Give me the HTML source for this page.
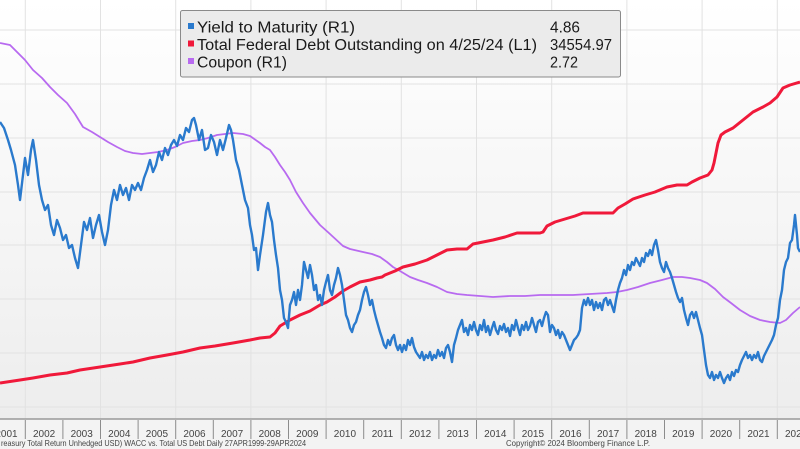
<!DOCTYPE html>
<html><head><meta charset="utf-8"><style>
html,body{margin:0;padding:0;background:#f3f3f3;}
svg{display:block;font-family:"Liberation Sans","DejaVu Sans",sans-serif;}
</style></head><body>
<svg width="800" height="449" viewBox="0 0 800 449" xmlns="http://www.w3.org/2000/svg">
<defs>
<linearGradient id="bg" x1="0" y1="0" x2="0" y2="1">
<stop offset="0" stop-color="#ffffff"/><stop offset="1" stop-color="#ededed"/>
</linearGradient>
</defs>
<rect x="0" y="0" width="800" height="419" fill="url(#bg)"/>
<rect x="0" y="419" width="800" height="30" fill="#f3f3f3"/>
<g stroke="#e2e2e2" stroke-width="1">
<line x1="0" y1="30" x2="800" y2="30"/><line x1="0" y1="84" x2="800" y2="84"/>
<line x1="0" y1="138" x2="800" y2="138"/><line x1="0" y1="192" x2="800" y2="192"/>
<line x1="0" y1="245" x2="800" y2="245"/><line x1="0" y1="299" x2="800" y2="299"/>
<line x1="0" y1="353" x2="800" y2="353"/><line x1="0" y1="407" x2="800" y2="407"/>
<line x1="25.3" y1="0" x2="25.3" y2="419"/><line x1="100.5" y1="0" x2="100.5" y2="419"/>
<line x1="175.7" y1="0" x2="175.7" y2="419"/><line x1="250.9" y1="0" x2="250.9" y2="419"/>
<line x1="326.1" y1="0" x2="326.1" y2="419"/><line x1="401.3" y1="0" x2="401.3" y2="419"/>
<line x1="476.5" y1="0" x2="476.5" y2="419"/><line x1="551.7" y1="0" x2="551.7" y2="419"/>
<line x1="626.9" y1="0" x2="626.9" y2="419"/><line x1="702.1" y1="0" x2="702.1" y2="419"/>
<line x1="777.3" y1="0" x2="777.3" y2="419"/>
</g>
<!-- Coupon -->
<polyline fill="none" stroke="#b86af0" stroke-width="1.8" stroke-linejoin="round" points="0,43 10,45 17,52 25,60 33,70 42,78 50,87 58,95 67,103 75,114 83,127 92,132 100,137 108,142 117,147 125,151 133,153 142,154 150,153 158,152 167,150 175,147 183,143 192,141 200,140 208,138 217,135 225,134 233,133 243,134 250,136 260,143 265,147 270,150 275,157 280,165 285,172 290,180 296,192 303,203 310,213 320,225 330,234 343,246 350,249 363,252 372,254 380,257 387,262 393,267 400,271 410,277 418,280 427,283 437,287 447,292 457,294 467,295 480,296 493,297 510,296 525,296 540,295 555,295 573,295 590,294 607,293 617,292 627,290 638,287 650,283 662,280 673,277 682,277 690,278 700,280 707,283 715,289 723,297 731,303 740,310 750,316 760,320 770,322 780,323 786,320 793,313 800,307"/>
<!-- Debt -->
<polyline fill="none" stroke="#f0193a" stroke-width="3" stroke-linejoin="round" points="0,383 20,380 33,378 50,375 67,373 80,370 100,367 120,364 133,362 150,358 167,355 183,352 200,348 215,346 233,343 250,340 260,338 270,337 275,333 280,326 285,323 290,320 300,315 310,311 320,305 327,302 335,297 343,291 350,287 360,282 370,280 377,278 382,277 385,275 395,271 403,267 415,264 427,260 437,255 447,250 457,249 467,249 473,244 483,242 493,240 505,237 517,233 528,233 540,233 543,232 547,226 555,222 565,219 575,216 583,213 600,213 613,213 618,208 625,204 633,199 645,195 655,192 667,187 677,185 687,185 692,182 700,178 708,175 712,170 714,163 716,153 718,143 721,135 725,132 733,128 743,120 753,112 763,107 770,103 777,97 783,88 790,85 800,82"/>
<!-- Yield -->
<polyline fill="none" stroke="#2a7acd" stroke-width="2.4" stroke-linejoin="round" points="0,122 4,128 8,140 11,150 15,165 18,185 20,200 23,175 25,158 28,175 31,150 33,140 36,160 39,185 42,200 45,210 48,205 51,225 54,235 57,220 60,228 63,240 66,235 69,248 72,245 75,258 78,268 81,245 84,222 87,230 90,218 93,238 96,225 99,215 102,232 105,245 108,230 111,205 114,190 117,200 120,185 123,195 126,188 129,200 132,185 135,190 138,183 141,190 144,178 147,170 150,160 153,172 156,165 159,152 162,160 165,148 168,155 171,145 174,140 177,146 180,135 183,140 186,128 189,132 192,120 194,118 196,125 199,140 202,130 205,150 208,148 211,135 214,142 217,155 220,140 223,150 226,138 229,125 231,130 233,140 236,160 239,170 242,185 245,200 248,208 250,225 252,235 254,250 256,248 258,270 260,255 263,235 266,212 268,203 270,215 272,222 274,240 276,255 278,268 280,290 282,300 284,318 286,322 288,328 290,305 292,300 294,292 296,305 298,290 300,300 302,285 304,262 306,270 308,278 310,265 312,275 314,290 316,285 318,300 320,295 322,305 324,290 326,282 328,275 330,290 332,295 334,285 336,278 338,268 340,275 342,285 344,300 346,315 348,320 350,328 352,332 354,325 356,322 358,315 360,310 362,300 364,292 366,287 368,295 370,305 372,300 374,310 376,318 378,325 380,332 382,338 384,345 386,348 388,340 390,345 392,338 394,335 396,345 398,350 400,345 402,352 404,345 406,350 408,340 410,345 412,338 414,347 416,352 418,355 420,358 422,352 424,360 426,355 428,358 430,352 432,360 434,355 436,358 438,350 440,356 442,352 444,358 446,348 448,345 450,352 452,362 454,345 456,338 458,330 460,325 462,320 464,332 466,328 468,335 470,325 472,330 474,322 476,330 478,335 480,325 482,330 484,320 486,332 488,326 490,335 492,328 494,322 496,330 498,334 500,326 502,330 504,324 506,332 508,328 510,336 512,325 514,330 516,320 518,328 520,335 522,325 524,330 526,322 528,330 530,326 532,318 534,325 536,332 538,322 540,320 542,326 544,318 546,312 548,315 550,332 552,325 554,328 556,335 558,330 560,338 562,332 564,335 566,340 568,345 570,350 572,345 574,340 576,338 578,335 580,330 582,308 584,300 586,305 588,298 590,305 592,300 594,310 596,302 598,308 600,303 602,310 604,300 606,298 608,305 610,300 612,306 614,312 616,300 618,290 620,283 622,278 624,270 626,275 628,265 630,270 632,262 634,265 636,258 638,262 640,266 642,258 644,262 646,253 648,256 650,250 652,255 654,245 656,240 658,250 660,262 662,268 664,272 666,262 668,268 670,272 672,278 674,285 676,292 678,298 680,302 682,298 684,310 686,318 688,325 690,315 692,312 694,318 696,312 698,320 700,328 702,335 704,350 706,365 708,375 710,378 712,372 714,380 716,375 718,378 720,372 722,378 724,383 726,378 728,375 730,380 732,372 734,376 736,370 738,372 740,365 742,360 744,356 746,352 748,358 750,355 752,360 754,355 756,358 758,352 760,360 762,362 764,356 766,352 768,348 770,344 772,340 774,335 776,325 778,318 780,300 782,290 784,270 786,262 788,258 790,243 792,240 794,225 795,215 797,235 798,248 800,252"/>
<!-- axis -->
<line x1="0" y1="419" x2="800" y2="419" stroke="#9a9a9a" stroke-width="1.5"/>
<g stroke="#8c8c8c" stroke-width="1">
<line x1="25.3" y1="420" x2="25.3" y2="439"/><line x1="62.9" y1="420" x2="62.9" y2="439"/>
<line x1="100.5" y1="420" x2="100.5" y2="439"/><line x1="138.1" y1="420" x2="138.1" y2="439"/>
<line x1="175.7" y1="420" x2="175.7" y2="439"/><line x1="213.3" y1="420" x2="213.3" y2="439"/>
<line x1="250.9" y1="420" x2="250.9" y2="439"/><line x1="288.5" y1="420" x2="288.5" y2="439"/>
<line x1="326.1" y1="420" x2="326.1" y2="439"/><line x1="363.7" y1="420" x2="363.7" y2="439"/>
<line x1="401.3" y1="420" x2="401.3" y2="439"/><line x1="438.9" y1="420" x2="438.9" y2="439"/>
<line x1="476.5" y1="420" x2="476.5" y2="439"/><line x1="514.1" y1="420" x2="514.1" y2="439"/>
<line x1="551.7" y1="420" x2="551.7" y2="439"/><line x1="589.3" y1="420" x2="589.3" y2="439"/>
<line x1="626.9" y1="420" x2="626.9" y2="439"/><line x1="664.5" y1="420" x2="664.5" y2="439"/>
<line x1="702.1" y1="420" x2="702.1" y2="439"/><line x1="739.7" y1="420" x2="739.7" y2="439"/>
<line x1="777.3" y1="420" x2="777.3" y2="439"/>
</g>
<g font-size="10" fill="#444" text-anchor="middle">
<text x="6.5" y="437">2001</text><text x="44.1" y="437">2002</text><text x="81.7" y="437">2003</text>
<text x="119.3" y="437">2004</text><text x="156.9" y="437">2005</text><text x="194.5" y="437">2006</text>
<text x="232.1" y="437">2007</text><text x="269.7" y="437">2008</text><text x="307.3" y="437">2009</text>
<text x="344.9" y="437">2010</text><text x="382.5" y="437">2011</text><text x="420.1" y="437">2012</text>
<text x="457.7" y="437">2013</text><text x="495.3" y="437">2014</text><text x="532.9" y="437">2015</text>
<text x="570.5" y="437">2016</text><text x="608.1" y="437">2017</text><text x="645.7" y="437">2018</text>
<text x="683.3" y="437">2019</text><text x="720.9" y="437">2020</text><text x="758.5" y="437">2021</text>
<text x="796.1" y="437">2022</text>
</g>
<g font-size="8.5" fill="#444">
<text x="1" y="446" textLength="305" lengthAdjust="spacingAndGlyphs">reasury Total Return Unhedged USD) WACC vs. Total US Debt  Daily 27APR1999-29APR2024</text>
<text x="506" y="446" textLength="144" lengthAdjust="spacingAndGlyphs">Copyright© 2024 Bloomberg Finance L.P.</text>
</g>
<!-- legend -->
<rect x="180.5" y="10.5" width="440" height="66.5" rx="2" fill="#ebebeb" stroke="#8a8a8a" stroke-width="1"/>
<rect x="188" y="23" width="6" height="6" fill="#2a7acd"/>
<rect x="188" y="40.5" width="6" height="6" fill="#f0193a"/>
<rect x="188" y="58" width="6" height="6" fill="#b86af0"/>
<g font-size="15.5" fill="#1a1a1a">
<text x="197" y="32.5" textLength="158" lengthAdjust="spacingAndGlyphs">Yield to Maturity (R1)</text>
<text x="197" y="50" textLength="340" lengthAdjust="spacingAndGlyphs">Total Federal Debt Outstanding on 4/25/24 (L1)</text>
<text x="197" y="67.5" textLength="90" lengthAdjust="spacingAndGlyphs">Coupon (R1)</text>
<text x="550" y="32.5" textLength="30" lengthAdjust="spacingAndGlyphs">4.86</text>
<text x="550" y="50" textLength="62" lengthAdjust="spacingAndGlyphs">34554.97</text>
<text x="550" y="67.5" textLength="28" lengthAdjust="spacingAndGlyphs">2.72</text>
</g>
</svg>
</body></html>
